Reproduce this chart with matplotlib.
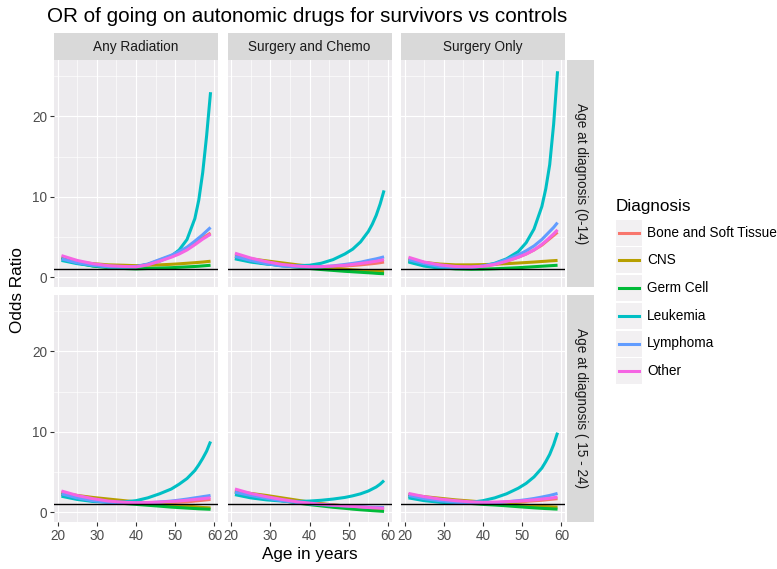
import matplotlib.pyplot as plt
from matplotlib.patches import Rectangle
from matplotlib.lines import Line2D

plt.rcParams['font.family'] = ['Liberation Sans', 'DejaVu Sans']

# fitted odds ratios by attained age
ages = [21, 25, 29, 33, 37, 40, 43, 46, 49, 51, 53, 55, 56, 57, 58, 59]
diagnoses = ["Bone and Soft Tissue", "CNS", "Germ Cell", "Leukemia", "Lymphoma", "Other"]
colors = ["#F8766D", "#B79F00", "#00BA38", "#00BFC4", "#619CFF", "#F564E3"]
treatments = ["Any Radiation", "Surgery and Chemo", "Surgery Only"]
age_groups = ["Age at diagnosis (0-14)", "Age at diagnosis ( 15 - 24)"]

young_radiation = {
    "Bone and Soft Tissue": [2.4, 1.9, 1.6, 1.4, 1.35, 1.35, 1.6, 2.15, 2.65, 3.05, 3.55, 4.2, 4.55, 4.9, 5.2, 5.5],
    "CNS": [2.3, 1.9, 1.7, 1.55, 1.5, 1.45, 1.5, 1.55, 1.62, 1.68, 1.75, 1.82, 1.86, 1.9, 1.95, 2.0],
    "Germ Cell": [2.4, 1.8, 1.4, 1.2, 1.1, 1.05, 1.1, 1.15, 1.2, 1.25, 1.3, 1.35, 1.38, 1.42, 1.46, 1.5],
    "Leukemia": [2.1, 1.7, 1.45, 1.3, 1.25, 1.3, 1.6, 2.0, 2.65, 3.4, 4.7, 7.3, 9.6, 13.0, 17.6, 23.0],
    "Lymphoma": [2.3, 1.8, 1.5, 1.3, 1.3, 1.35, 1.65, 2.2, 2.75, 3.2, 3.75, 4.5, 4.9, 5.3, 5.75, 6.2],
    "Other": [2.7, 2.1, 1.7, 1.45, 1.35, 1.3, 1.55, 2.0, 2.5, 2.9, 3.4, 4.05, 4.4, 4.75, 5.05, 5.35],
}
young_chemo = {
    "Bone and Soft Tissue": [2.8, 2.3, 1.9, 1.6, 1.4, 1.32, 1.3, 1.32, 1.4, 1.47, 1.55, 1.65, 1.7, 1.75, 1.82, 1.9],
    "CNS": [2.6, 2.3, 2.05, 1.8, 1.55, 1.4, 1.25, 1.1, 1.0, 0.93, 0.87, 0.8, 0.77, 0.75, 0.72, 0.7],
    "Germ Cell": [2.4, 2.0, 1.7, 1.45, 1.25, 1.1, 0.97, 0.86, 0.75, 0.69, 0.63, 0.57, 0.54, 0.5, 0.47, 0.45],
    "Leukemia": [2.3, 1.9, 1.65, 1.5, 1.45, 1.5, 1.75, 2.2, 2.9, 3.5, 4.4, 5.7, 6.6, 7.7, 9.1, 10.8],
    "Lymphoma": [2.6, 2.1, 1.7, 1.4, 1.3, 1.28, 1.32, 1.42, 1.6, 1.73, 1.88, 2.1, 2.2, 2.3, 2.42, 2.55],
    "Other": [3.0, 2.4, 1.95, 1.6, 1.4, 1.32, 1.32, 1.4, 1.5, 1.6, 1.72, 1.85, 1.93, 2.0, 2.1, 2.2],
}
young_surgery = {
    "Bone and Soft Tissue": [2.3, 1.8, 1.5, 1.35, 1.3, 1.38, 1.6, 2.0, 2.5, 2.9, 3.4, 4.0, 4.4, 4.8, 5.2, 5.6],
    "CNS": [2.2, 1.85, 1.65, 1.55, 1.55, 1.58, 1.63, 1.7, 1.78, 1.84, 1.9, 1.97, 2.0, 2.04, 2.07, 2.1],
    "Germ Cell": [2.0, 1.5, 1.2, 1.05, 1.0, 1.02, 1.07, 1.13, 1.2, 1.26, 1.32, 1.38, 1.41, 1.44, 1.47, 1.5],
    "Leukemia": [1.9, 1.4, 1.15, 1.1, 1.2, 1.4, 1.75, 2.3, 3.2, 4.3, 6.0, 8.8, 11.0, 14.0, 19.0, 25.6],
    "Lymphoma": [2.2, 1.7, 1.35, 1.2, 1.25, 1.4, 1.7, 2.2, 2.8, 3.3, 3.9, 4.7, 5.2, 5.7, 6.2, 6.8],
    "Other": [2.5, 1.9, 1.55, 1.35, 1.3, 1.38, 1.6, 2.0, 2.5, 2.9, 3.4, 4.1, 4.5, 4.95, 5.4, 5.9],
}
older_radiation = {
    "Bone and Soft Tissue": [2.5, 2.0, 1.65, 1.4, 1.25, 1.18, 1.15, 1.16, 1.2, 1.25, 1.3, 1.4, 1.45, 1.5, 1.55, 1.6],
    "CNS": [2.4, 2.1, 1.85, 1.65, 1.45, 1.3, 1.18, 1.03, 0.9, 0.83, 0.76, 0.7, 0.65, 0.6, 0.58, 0.55],
    "Germ Cell": [2.2, 1.85, 1.55, 1.3, 1.1, 0.99, 0.88, 0.77, 0.65, 0.59, 0.53, 0.47, 0.44, 0.42, 0.4, 0.38],
    "Leukemia": [2.0, 1.6, 1.35, 1.25, 1.3, 1.45, 1.8, 2.3, 2.9, 3.5, 4.2, 5.2, 5.9, 6.7, 7.6, 8.8],
    "Lymphoma": [2.3, 1.8, 1.45, 1.25, 1.15, 1.15, 1.18, 1.28, 1.4, 1.52, 1.65, 1.8, 1.87, 1.95, 2.02, 2.1],
    "Other": [2.65, 2.1, 1.7, 1.4, 1.25, 1.2, 1.22, 1.28, 1.35, 1.42, 1.5, 1.6, 1.65, 1.7, 1.75, 1.8],
}
older_chemo = {
    "Bone and Soft Tissue": [2.7, 2.25, 1.9, 1.6, 1.3, 1.15, 1.02, 0.9, 0.8, 0.74, 0.68, 0.6, 0.57, 0.55, 0.52, 0.5],
    "CNS": [2.6, 2.35, 2.1, 1.8, 1.5, 1.28, 1.08, 0.93, 0.8, 0.7, 0.6, 0.5, 0.45, 0.4, 0.38, 0.35],
    "Germ Cell": [2.5, 2.1, 1.75, 1.45, 1.15, 0.96, 0.8, 0.63, 0.5, 0.4, 0.32, 0.25, 0.21, 0.18, 0.15, 0.12],
    "Leukemia": [2.2, 1.8, 1.55, 1.4, 1.35, 1.4, 1.5, 1.65, 1.85, 2.05, 2.3, 2.65, 2.9, 3.15, 3.5, 3.95],
    "Lymphoma": [2.5, 2.1, 1.75, 1.45, 1.2, 1.05, 0.95, 0.86, 0.8, 0.75, 0.7, 0.65, 0.63, 0.62, 0.61, 0.6],
    "Other": [2.9, 2.35, 1.95, 1.6, 1.3, 1.15, 1.0, 0.9, 0.8, 0.74, 0.67, 0.6, 0.57, 0.55, 0.52, 0.5],
}
older_surgery = {
    "Bone and Soft Tissue": [2.2, 1.85, 1.6, 1.4, 1.25, 1.2, 1.2, 1.22, 1.3, 1.36, 1.43, 1.5, 1.55, 1.6, 1.65, 1.7],
    "CNS": [2.2, 1.95, 1.75, 1.55, 1.4, 1.28, 1.17, 1.05, 0.95, 0.88, 0.81, 0.75, 0.72, 0.7, 0.67, 0.65],
    "Germ Cell": [2.0, 1.7, 1.45, 1.25, 1.1, 0.99, 0.91, 0.81, 0.7, 0.63, 0.56, 0.5, 0.47, 0.45, 0.42, 0.4],
    "Leukemia": [1.8, 1.45, 1.25, 1.15, 1.25, 1.45, 1.8, 2.3, 3.0, 3.6, 4.4, 5.5, 6.3, 7.2, 8.4, 9.9],
    "Lymphoma": [2.1, 1.7, 1.45, 1.25, 1.15, 1.15, 1.18, 1.3, 1.45, 1.57, 1.72, 1.9, 2.0, 2.1, 2.22, 2.35],
    "Other": [2.35, 1.95, 1.65, 1.45, 1.3, 1.25, 1.27, 1.33, 1.4, 1.47, 1.55, 1.65, 1.7, 1.75, 1.82, 1.9],
}
panels = [[young_radiation, young_chemo, young_surgery],
          [older_radiation, older_chemo, older_surgery]]

W, H = 777, 569
fig = plt.figure(figsize=(W / 100, H / 100), dpi=100)


def px_axes(x0, y0, w, h):
    return fig.add_axes([x0 / W, 1 - (y0 + h) / H, w / W, h / H])


col_x = [54, 227.5, 401]
row_y = [60, 295]
pw, ph = 164, 227

for r in range(2):
    for c in range(3):
        ax = px_axes(col_x[c], row_y[r], pw, ph)
        ax.set_facecolor("#EDEBEE")
        for s in ax.spines.values():
            s.set_visible(False)
        ax.set_xlim(19.1, 60.9)
        ax.set_ylim(-1.2, 27.0)
        ax.set_xticks([20, 30, 40, 50, 60])
        ax.set_xticks([25, 35, 45, 55], minor=True)
        ax.set_yticks([0, 10, 20])
        ax.set_yticks([5, 15, 25], minor=True)
        ax.grid(which="major", color="white", lw=0.85)
        ax.grid(which="minor", color="white", lw=0.45)
        ax.set_axisbelow(True)
        ax.tick_params(which="minor", length=0)
        ax.tick_params(which="major", length=2.7, width=0.8, color="#333333",
                       labelsize=9.8, labelcolor="#4D4D4D", pad=2)
        if c > 0:
            ax.tick_params(axis="y", length=0, labelleft=False)
        if r == 0:
            ax.tick_params(axis="x", length=0, labelbottom=False)

        data = panels[r][c]
        for name, col in zip(diagnoses, colors):
            ax.plot(ages, data[name], color=col, lw=2.2, solid_capstyle="butt")
        ax.axhline(1, color="black", lw=1.0)

# column strips
for c, lab in enumerate(treatments):
    sax = px_axes(col_x[c], 33, pw, 27)
    sax.set_facecolor("#D9D9D9")
    sax.set_xticks([])
    sax.set_yticks([])
    for s in sax.spines.values():
        s.set_visible(False)
    sax.text(0.5, 0.5, lab, ha="center", va="center", fontsize=9.8,
             color="#1A1A1A", transform=sax.transAxes)

# row strips
for r, lab in enumerate(age_groups):
    sax = px_axes(567, row_y[r], 27, ph)
    sax.set_facecolor("#D9D9D9")
    sax.set_xticks([])
    sax.set_yticks([])
    for s in sax.spines.values():
        s.set_visible(False)
    sax.text(0.5, 0.5, lab, ha="center", va="center", fontsize=9.8,
             color="#1A1A1A", rotation=-90, transform=sax.transAxes)

fig.text(47 / W, 1 - 16 / H, "OR of going on autonomic drugs for survivors vs controls",
         ha="left", va="center", fontsize=14.9, color="black")
fig.text(310 / W, 1 - 555 / H, "Age in years", ha="center", va="center", fontsize=12.3)
fig.text(18 / W, 1 - 290 / H, "Odds Ratio", ha="center", va="center",
         rotation=90, fontsize=12.3)

# legend
fig.text(616 / W, 1 - 206 / H, "Diagnosis", ha="left", va="center", fontsize=12.3)
for i, (name, col) in enumerate(zip(diagnoses, colors)):
    cy = 232.7 + i * 27.7
    fig.add_artist(Rectangle((616 / W, 1 - (cy + 13) / H), 26 / W, 26 / H,
                             transform=fig.transFigure, facecolor="#F2F0F2",
                             edgecolor="none"))
    fig.add_artist(Line2D([619 / W, 639 / W], [1 - cy / H, 1 - cy / H],
                          transform=fig.transFigure, color=col, lw=2.2))
    fig.text(647 / W, 1 - cy / H, name, ha="left", va="center", fontsize=9.8)

fig.savefig("out.png", dpi=100)
